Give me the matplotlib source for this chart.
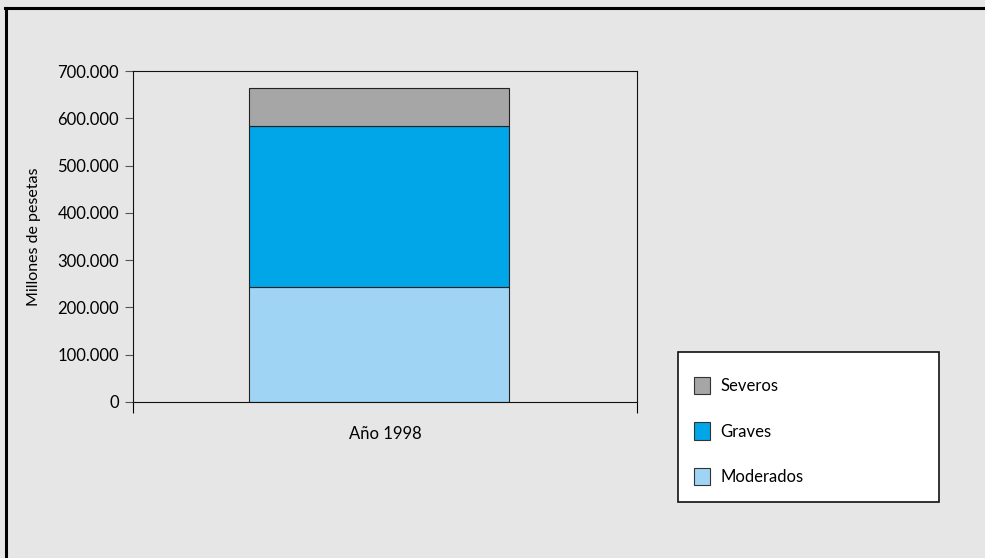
#!/usr/bin/env python3
"""Stacked bar: coste por gravedad, año 1998 (millones de pesetas)."""

import matplotlib
matplotlib.use('Agg')
import matplotlib.pyplot as plt
import matplotlib.patches as mpatches
from matplotlib.lines import Line2D
from matplotlib.ticker import FuncFormatter

# ── data ──────────────────────────────────────────────────────────────
categories = ["Año 1998"]
series_names = ["Moderados", "Graves", "Severos"]
moderados = [243000]
graves = [340000]
severos = [80000]
series_values = [moderados, graves, severos]
y_ticks = [0, 100000, 200000, 300000, 400000, 500000, 600000, 700000]

# ── style ─────────────────────────────────────────────────────────────
BG = '#e6e6e6'
COLORS = {'Moderados': '#a0d4f4', 'Graves': '#00a6e8', 'Severos': '#a6a6a6'}
plt.rcParams['font.family'] = ['Lato', 'DejaVu Sans']

fig = plt.figure(figsize=(9.85, 5.58), dpi=100, facecolor=BG)
ax = fig.add_axes([133 / 985, 1 - 402 / 558, 504 / 985, 331 / 558])
ax.set_facecolor(BG)

# ── stacked bars ──────────────────────────────────────────────────────
x = list(range(len(categories)))
bottom = [0] * len(categories)
for name, vals in zip(series_names, series_values):
    ax.bar(x, vals, bottom=bottom, width=0.516, color=COLORS[name],
           edgecolor='#222222', linewidth=0.8, label=name, zorder=2)
    bottom = [b + v for b, v in zip(bottom, vals)]

# ── axes ──────────────────────────────────────────────────────────────
XOFF = 0.012
ax.set_xlim(-0.5 + XOFF, 0.5 + XOFF)
ax.set_ylim(0, 700000)
ax.set_yticks(y_ticks)
ax.yaxis.set_major_formatter(
    FuncFormatter(lambda v, _: f"{int(v):,}".replace(',', '.')))
ax.tick_params(axis='y', length=6, width=0.8, color='#555555',
               labelsize=12, pad=4)

# category labels centred, tick marks on the category boundaries
ax.set_xticks([c + XOFF for c in x])
ax.set_xticklabels(categories, fontsize=12)
ax.tick_params(axis='x', length=0, pad=17)
ax.set_xticks([-0.5 + XOFF, 0.5 + XOFF], minor=True)
ax.tick_params(axis='x', which='minor', length=8, width=0.8, direction='out')

for s in ax.spines.values():
    s.set_linewidth(0.8)
    s.set_color('#111111')

ax.set_ylabel("Millones de pesetas", fontsize=11.5, labelpad=12)

# ── legend in a white box ─────────────────────────────────────────────
box = mpatches.Rectangle((678 / 985, 1 - 502 / 558), 261 / 985, 150 / 558,
                         transform=fig.transFigure, facecolor='white',
                         edgecolor='#111111', linewidth=1.2, zorder=1)
fig.add_artist(box)

handles = [mpatches.Patch(facecolor=COLORS[n], edgecolor='#333333',
                          linewidth=0.8, label=n)
           for n in reversed(series_names)]
fig.legend(handles=handles, loc='center left',
           bbox_to_anchor=(687 / 985, 1 - 431 / 558),
           frameon=False, fontsize=12, handlelength=1.0,
           handleheight=1.2, handletextpad=0.6, labelspacing=1.7,
           borderaxespad=0)

# ── outer frame lines (top and left) ──────────────────────────────────
fig.add_artist(Line2D([5 / 985, 1], [1 - 8 / 558, 1 - 8 / 558],
                      transform=fig.transFigure, color='black', linewidth=2.2))
fig.add_artist(Line2D([6 / 985, 6 / 985], [0, 1 - 8 / 558],
                      transform=fig.transFigure, color='black', linewidth=2.2))

fig.savefig('out.png', dpi=100, facecolor=BG)
